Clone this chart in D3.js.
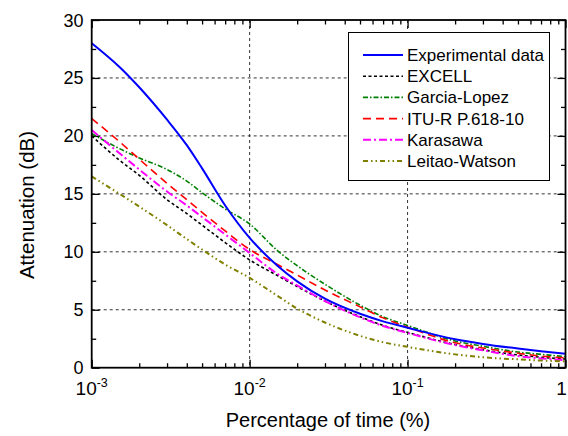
<!DOCTYPE html>
<html>
<head>
<meta charset="utf-8">
<script src="https://cdn.jsdelivr.net/npm/d3@7/dist/d3.min.js"></script>
<style>
  html, body { margin: 0; padding: 0; background: #fff; }
  svg { display: block; font-family: Arial, "Liberation Sans", sans-serif; }
</style>
</head>
<body>
<svg id="chart" width="568" height="436"></svg>
<script>
// Percentage of time (%) sample points
const pct = [0.001, 0.0015, 0.002, 0.003, 0.004, 0.005, 0.007, 0.01, 0.015, 0.02,
             0.03, 0.05, 0.07, 0.1, 0.2, 0.3, 0.5, 0.7, 1];

// Attenuation (dB) per model
const experimental = [28.0, 25.95, 24.2, 21.4, 19.2, 17.2, 14.0, 11.2, 8.8, 7.45,
                      5.95, 4.65, 4.0, 3.45, 2.45, 2.05, 1.65, 1.42, 1.2];
const excell       = [20.0, 17.9, 16.6, 14.5, 13.3, 12.3, 10.8, 9.3, 7.95, 7.0,
                      5.75, 4.4, 3.65, 3.05, 2.0, 1.55, 1.1, 0.9, 0.75];
const garciaLopez  = [20.2, 18.9, 18.1, 17.1, 16.1, 15.1, 13.7, 12.4, 10.1, 8.8,
                      7.2, 5.4, 4.4, 3.65, 2.3, 1.85, 1.35, 1.15, 0.95];
const ituR         = [21.5, 19.5, 18.0, 15.9, 14.5, 13.4, 11.8, 10.2, 8.9, 8.0,
                      6.7, 5.25, 4.3, 3.5, 2.15, 1.7, 1.25, 1.0, 0.85];
const karasawa     = [20.5, 18.5, 17.1, 15.2, 14.0, 13.0, 11.5, 9.9, 8.1, 7.1,
                      5.75, 4.35, 3.6, 3.0, 1.95, 1.5, 1.0, 0.8, 0.65];
const leitaoWatson = [16.5, 15.0, 13.9, 12.3, 11.1, 10.2, 8.9, 7.75, 6.2, 5.1,
                      3.9, 2.75, 2.2, 1.8, 1.15, 0.9, 0.72, 0.62, 0.55];

const seriesNames = ["Experimental data", "EXCELL", "Garcia-Lopez", "ITU-R P.618-10", "Karasawa", "Leitao-Watson"];
const seriesValues = [experimental, excell, garciaLopez, ituR, karasawa, leitaoWatson];
const seriesColors = ["#0000ff", "#000000", "#008000", "#ff0000", "#ff00ff", "#808000"];
const seriesDash   = [null, "3,2.5", "5,2,1.5,2", "8,5", "8,3,2,3", "5,3,1.5,3,1.5,3"];
const seriesWidth  = [2, 1.6, 1.6, 1.6, 2, 2];

// Axis ticks
const xMajorTicks = [0.001, 0.01, 0.1, 1];
const xTickExp = ["-3", "-2", "-1", ""];
const yMajorTicks = [0, 5, 10, 15, 20, 25, 30];
const yMinorTicks = [2.5, 7.5, 12.5, 17.5, 22.5, 27.5];

const svg = d3.select("#chart");
const plotL = 91.7, plotR = 565.5, plotT = 20, plotB = 367.7;

const x = d3.scaleLog().domain([0.001, 1]).range([plotL, plotR]);
const y = d3.scaleLinear().domain([0, 30]).range([plotB, plotT]);

// minor log ticks 2..9 within each decade
const xMinorTicks = [];
[0.001, 0.01, 0.1].forEach(d => { for (let k = 2; k <= 9; k++) xMinorTicks.push(d * k); });

// grid
const grid = svg.append("g").attr("stroke", "#333").attr("stroke-width", 1).attr("stroke-dasharray", "3,3");
yMajorTicks.filter(v => v > 0 && v < 30).forEach(v => {
  grid.append("line").attr("x1", plotL).attr("x2", plotR).attr("y1", y(v)).attr("y2", y(v));
});
xMajorTicks.filter(v => v > 0.001 && v < 1).forEach(v => {
  grid.append("line").attr("x1", x(v)).attr("x2", x(v)).attr("y1", plotT).attr("y2", plotB);
});

// inward ticks on all four sides
function noLabels(a) { return a.tickFormat(() => ""); }
svg.append("g").attr("transform", `translate(0,${plotB})`)
  .call(noLabels(d3.axisBottom(x).tickValues(xMinorTicks).tickSize(-4.5).tickSizeOuter(0)));
svg.append("g").attr("transform", `translate(0,${plotB})`)
  .call(noLabels(d3.axisBottom(x).tickValues(xMajorTicks).tickSize(-8).tickSizeOuter(0)));
svg.append("g").attr("transform", `translate(0,${plotT})`)
  .call(noLabels(d3.axisTop(x).tickValues(xMinorTicks).tickSize(-4.5).tickSizeOuter(0)));
svg.append("g").attr("transform", `translate(0,${plotT})`)
  .call(noLabels(d3.axisTop(x).tickValues(xMajorTicks).tickSize(-8).tickSizeOuter(0)));
svg.append("g").attr("transform", `translate(${plotL},0)`)
  .call(noLabels(d3.axisLeft(y).tickValues(yMinorTicks).tickSize(-4.5).tickSizeOuter(0)));
svg.append("g").attr("transform", `translate(${plotL},0)`)
  .call(noLabels(d3.axisLeft(y).tickValues(yMajorTicks).tickSize(-8).tickSizeOuter(0)));
svg.append("g").attr("transform", `translate(${plotR},0)`)
  .call(noLabels(d3.axisRight(y).tickValues(yMinorTicks).tickSize(-4.5).tickSizeOuter(0)));
svg.append("g").attr("transform", `translate(${plotR},0)`)
  .call(noLabels(d3.axisRight(y).tickValues(yMajorTicks).tickSize(-8).tickSizeOuter(0)));
svg.selectAll(".domain").remove();
svg.selectAll(".tick line").attr("stroke", "#000").attr("stroke-width", 1.3);

// curves
const line = d3.line().x((d, i) => x(pct[i])).y(d => y(d)).curve(d3.curveMonotoneX);
const curves = svg.append("g").attr("fill", "none");
seriesValues.forEach((vals, i) => {
  curves.append("path").datum(vals).attr("d", line)
    .attr("stroke", seriesColors[i]).attr("stroke-width", seriesWidth[i])
    .attr("stroke-dasharray", seriesDash[i]);
});
// experimental curve drawn on top
curves.select("path").raise();

// frame
svg.append("rect").attr("x", plotL).attr("y", plotT).attr("width", plotR - plotL).attr("height", plotB - plotT)
  .attr("fill", "none").attr("stroke", "#000").attr("stroke-width", 1.8);

// y tick labels
svg.append("g").selectAll("text").data(yMajorTicks).join("text")
  .attr("x", 83.5).attr("y", d => y(d) + 6.5).attr("text-anchor", "end")
  .attr("font-size", 18).attr("fill", "#000").text(d => d);

// x tick labels with superscript exponents (last one nudged inside the page)
const xl = svg.append("g").selectAll("text").data(xMajorTicks).join("text")
  .attr("x", (d, i) => x(d) - (xTickExp[i] === "" ? 4 : 0)).attr("y", 395).attr("text-anchor", "middle")
  .attr("font-size", 19).attr("fill", "#000");
xl.each(function(d, i) {
  const t = d3.select(this);
  if (xTickExp[i] === "") { t.text("1"); return; }
  t.append("tspan").text("10");
  t.append("tspan").attr("dy", -8).attr("font-size", 12.5).text(xTickExp[i]);
});

// axis titles
svg.append("text").attr("x", 328).attr("y", 427).attr("text-anchor", "middle")
  .attr("font-size", 20).attr("fill", "#000").text("Percentage of time (%)");
svg.append("text").attr("transform", "translate(33.5,205) rotate(-90)").attr("text-anchor", "middle")
  .attr("font-size", 20.5).attr("fill", "#000").text("Attenuation (dB)");

// legend
const lg = svg.append("g");
lg.append("rect").attr("x", 348.5).attr("y", 32.5).attr("width", 201).attr("height", 148)
  .attr("fill", "#fff").attr("stroke", "#000").attr("stroke-width", 1);
seriesNames.forEach((name, i) => {
  const cy = 55 + i * 21.2;
  lg.append("line").attr("x1", 363).attr("x2", 403).attr("y1", cy).attr("y2", cy)
    .attr("stroke", seriesColors[i]).attr("stroke-width", seriesWidth[i])
    .attr("stroke-dasharray", seriesDash[i]);
  lg.append("text").attr("x", 407).attr("y", cy + 6).attr("font-size", 17)
    .attr("fill", "#000").text(name);
});
</script>
</body>
</html>
